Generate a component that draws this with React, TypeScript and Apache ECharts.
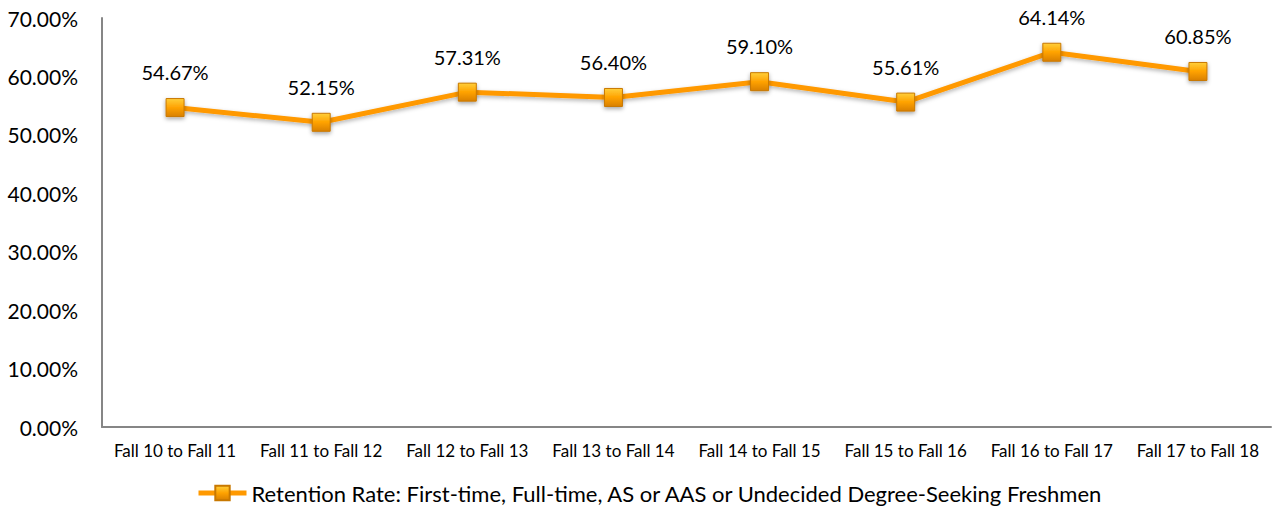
import React, { useEffect, useRef } from "react";
import * as echarts from "echarts";

const categories = [
  "Fall 10 to Fall 11",
  "Fall 11 to Fall 12",
  "Fall 12 to Fall 13",
  "Fall 13 to Fall 14",
  "Fall 14 to Fall 15",
  "Fall 15 to Fall 16",
  "Fall 16 to Fall 17",
  "Fall 17 to Fall 18",
];
const retention = [54.67, 52.15, 57.31, 56.4, 59.1, 55.61, 64.14, 60.85];
const seriesName =
  "Retention Rate: First-time, Full-time, AS or AAS or Undecided Degree-Seeking Freshmen";

const FONT = "Lato, 'Noto Sans', sans-serif";

export default function App() {
  const ref = useRef<HTMLDivElement>(null);
  useEffect(() => {
    if (!ref.current) return;
    const chart = echarts.init(ref.current, undefined, { renderer: "svg" });
    const markerColor = new echarts.graphic.LinearGradient(0, 0, 0, 1, [
      { offset: 0, color: "#FFCF3A" },
      { offset: 0.5, color: "#FFA200" },
      { offset: 1, color: "#D98000" },
    ]);
    chart.setOption({
      animation: false,
      textStyle: { fontFamily: FONT },
      grid: { left: 102, right: 2, top: 18, bottom: 85, containLabel: false },
      legend: {
        bottom: 3,
        left: 191,
        itemWidth: 48,
        itemHeight: 18,
        itemGap: 2,
        lineStyle: { width: 5, color: "#FF9900" },
        textStyle: { fontSize: 22, color: "#000", fontFamily: FONT },
        data: [seriesName],
      },
      xAxis: {
        type: "category",
        data: categories,
        boundaryGap: true,
        axisLine: { show: true, lineStyle: { color: "#868686", width: 2 } },
        axisTick: { show: false },
        axisLabel: { color: "#000", fontSize: 17, margin: 15, interval: 0, fontFamily: FONT },
        splitLine: { show: false },
      },
      yAxis: {
        type: "value",
        min: 0,
        max: 70,
        interval: 10,
        axisLine: { show: true, lineStyle: { color: "#868686", width: 2 } },
        axisTick: { show: false },
        splitLine: { show: false },
        axisLabel: {
          color: "#000",
          fontSize: 21,
          margin: 24,
          fontFamily: FONT,
          formatter: (v: number) => v.toFixed(2) + "%",
        },
      },
      series: [
        {
          name: seriesName,
          type: "line",
          data: retention,
          symbol: "rect",
          symbolSize: 18,
          lineStyle: {
            color: "#FF9900",
            width: 5,
            shadowColor: "rgba(0,0,0,0.3)",
            shadowBlur: 4,
            shadowOffsetY: 2,
          },
          itemStyle: {
            color: markerColor,
            borderColor: "#C87800",
            borderWidth: 1,
            shadowColor: "rgba(0,0,0,0.35)",
            shadowBlur: 4,
            shadowOffsetY: 2,
          },
          label: {
            show: true,
            position: "top",
            distance: 16,
            color: "#000",
            fontSize: 20,
            fontFamily: FONT,
            formatter: (p: any) => p.value.toFixed(2) + "%",
          },
        },
      ],
    });
    return () => chart.dispose();
  }, []);
  return (
    <div
      ref={ref}
      style={{ position: "fixed", left: 0, top: 0, width: 1273, height: 512, background: "#fff" }}
    />
  );
}
